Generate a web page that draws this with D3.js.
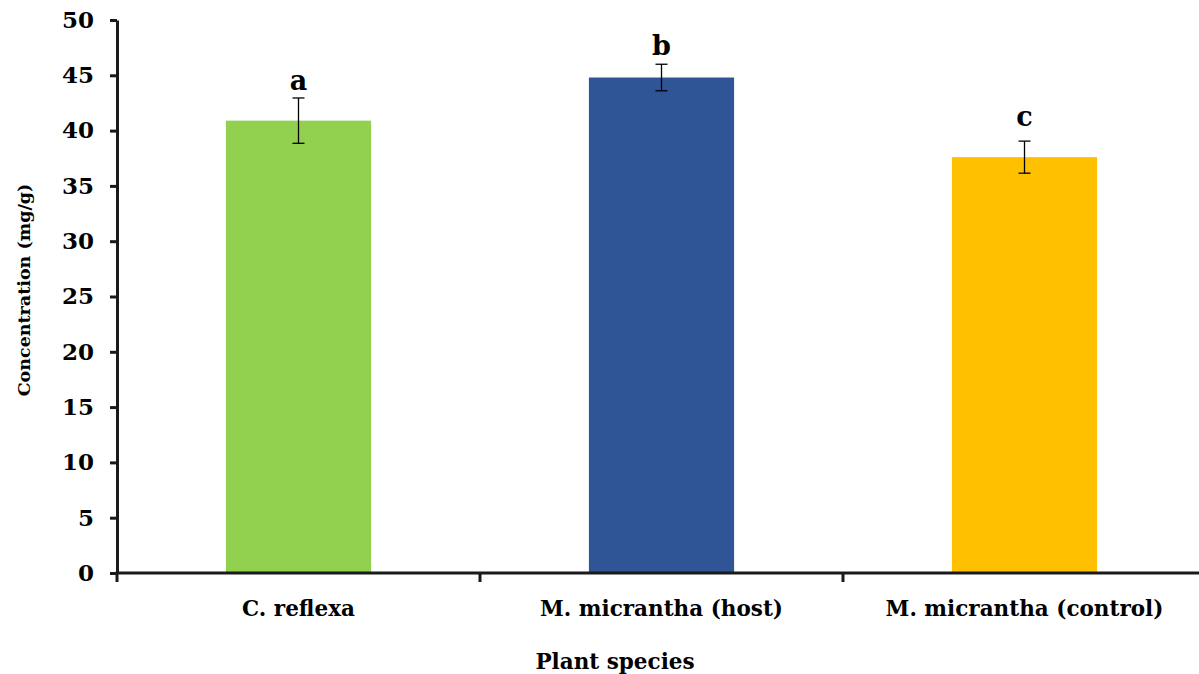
<!DOCTYPE html>
<html><head><meta charset="utf-8">
<script src="https://cdn.jsdelivr.net/npm/d3@7"></script>
<style>body{margin:0;background:#fff}svg{display:block}text{font-family:"DejaVu Serif",serif;font-weight:bold;fill:#000}</style>
</head><body><svg id="c" width="1199" height="674"></svg>
<script>
const categories = ["C. reflexa", "M. micrantha (host)", "M. micrantha (control)"];
const values = [40.9, 44.8, 37.6];
const errors = [2.05, 1.2, 1.45];
const letters = ["a", "b", "c"];
const letterValues = [43.7, 46.8, 40.4];
const colors = ["#92d050", "#2f5597", "#ffc000"];
const yTicks = [0, 5, 10, 15, 20, 25, 30, 35, 40, 45, 50];

const svg = d3.select("#c");
const x0 = 117, x1 = 1206, yTop = 20, yBot = 573;
const x = d3.scaleBand().domain(categories).range([x0, x1]).padding(0);
const y = d3.scaleLinear().domain([0, 50]).range([yBot, yTop]);
const bw = x.bandwidth() * 0.4;

const fontSize = "21.5px";
const ff = '"DejaVu Serif",serif';

svg.selectAll("rect.bar").data(categories).join("rect")
  .attr("x", (d) => x(d) + x.bandwidth() / 2 - bw / 2)
  .attr("y", (d, i) => y(values[i]))
  .attr("width", bw)
  .attr("height", (d, i) => y(0) - y(values[i]))
  .attr("fill", (d, i) => colors[i]);

// error bars
const eg = svg.append("g").attr("stroke", "#000").attr("stroke-width", 1.3);
categories.forEach((d, i) => {
  const cx = x(d) + x.bandwidth() / 2;
  const t = y(values[i] + errors[i]), b = y(values[i] - errors[i]);
  eg.append("line").attr("x1", cx).attr("x2", cx).attr("y1", t).attr("y2", b);
  eg.append("line").attr("x1", cx - 6).attr("x2", cx + 6).attr("y1", t).attr("y2", t);
  eg.append("line").attr("x1", cx - 6).attr("x2", cx + 6).attr("y1", b).attr("y2", b);
});

svg.selectAll("text.let").data(letters).join("text")
  .attr("x", (d, i) => x(categories[i]) + x.bandwidth() / 2)
  .attr("y", (d, i) => y(letterValues[i]))
  .attr("text-anchor", "middle").style("font-size", "27px").text((d) => d);

// y axis
const yAxis = svg.append("g").attr("transform", `translate(${x0},0)`)
  .call(d3.axisLeft(y).tickValues(yTicks).tickSize(7).tickPadding(16).tickSizeOuter(0));
yAxis.select(".domain").attr("stroke", "#1a1a1a").attr("stroke-width", 3);
yAxis.selectAll(".tick line").attr("stroke", "#1a1a1a").attr("stroke-width", 3);
yAxis.selectAll("text").style("font-size", "23px").style("font-family", ff).style("font-weight", "bold").attr("fill", "#000");

// x axis
const xt = d3.scaleLinear().domain([0, 3]).range([x0, x1]);
const xAxis = svg.append("g").attr("transform", `translate(0,${yBot})`);
xAxis.append("line").attr("x1", x0 - 1.5).attr("x2", 1199).attr("y1", 0).attr("y2", 0).attr("stroke", "#1a1a1a").attr("stroke-width", 3);
xAxis.selectAll("line.t").data([0, 1, 2]).join("line")
  .attr("x1", (d) => xt(d)).attr("x2", (d) => xt(d)).attr("y1", 0).attr("y2", 9)
  .attr("stroke", "#1a1a1a").attr("stroke-width", 3);
xAxis.selectAll("text").data(categories).join("text")
  .attr("x", (d) => x(d) + x.bandwidth() / 2).attr("y", 43)
  .attr("text-anchor", "middle").style("font-size", fontSize).text((d) => d);

svg.append("text").attr("x", 615).attr("y", 669).attr("text-anchor", "middle")
  .style("font-size", fontSize).text("Plant species");
svg.append("text").attr("transform", "translate(30,290) rotate(-90)").attr("text-anchor", "middle")
  .style("font-size", "17.5px").text("Concentration (mg/g)");
</script></body></html>
